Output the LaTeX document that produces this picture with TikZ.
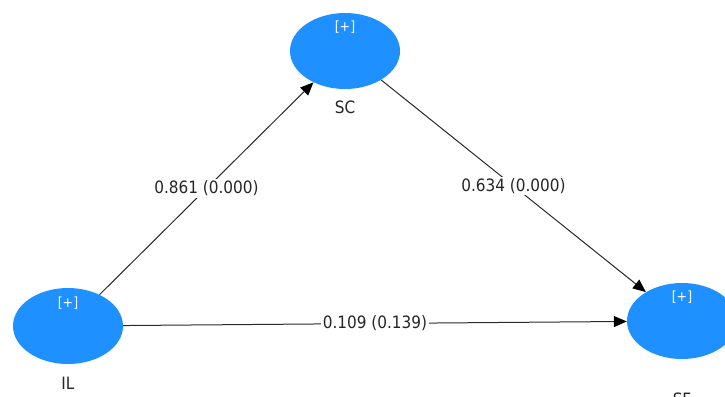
\documentclass[tikz,border=0pt]{standalone}
\usepackage{fontspec}
\setmainfont{DejaVu Sans Condensed}
\usetikzlibrary{arrows.meta,shapes.geometric}
\definecolor{lvblue}{HTML}{1E90FF}
\definecolor{edgegray}{HTML}{2A2A2A}
\tikzset{
  latent/.style={ellipse, fill=lvblue, draw=none, minimum width=110pt, minimum height=76pt, inner sep=0pt},
  plus/.style={text=white, font=\fontsize{14}{16}\selectfont},
  lvname/.style={text=black!85, font=\fontsize{17}{19}\selectfont},
  path/.style={draw=edgegray, line width=1pt, -{Triangle[length=13pt,width=11pt,color=black]}},
  coef/.style={fill=white, inner sep=1.5pt, text=black!85, font=\fontsize{17}{19}\selectfont}
}
\begin{document}
\begin{tikzpicture}[x=1pt,y=-1pt]
\useasboundingbox (0,0) rectangle (725,396);
\clip (0,0) rectangle (725,396);
\fill[white] (0,0) rectangle (725,396);
\node[latent] (SC) at (345,51) {};
\node[latent] (IL) at (68,326) {};
\node[latent] (SF) at (682,321) {};
\node[plus] (SCp) at (345,27) {[+]};
\node[plus] (ILp) at (68,303) {[+]};
\node[plus] (SFp) at (682,297) {[+]};
\node[lvname] (SCl) at (345,107) {SC};
\node[lvname] (ILl) at (68,383) {IL};
\node[lvname] (SFl) at (682,399) {SF};
\draw[path] (IL) -- node[coef] (c1) {0.861 (0.000)} (SC);
\draw[path] (SC) -- node[coef] (c2) {0.634 (0.000)} (SF);
\draw[path] (IL) -- node[coef] (c3) {0.109 (0.139)} (SF);
\end{tikzpicture}
\end{document}
